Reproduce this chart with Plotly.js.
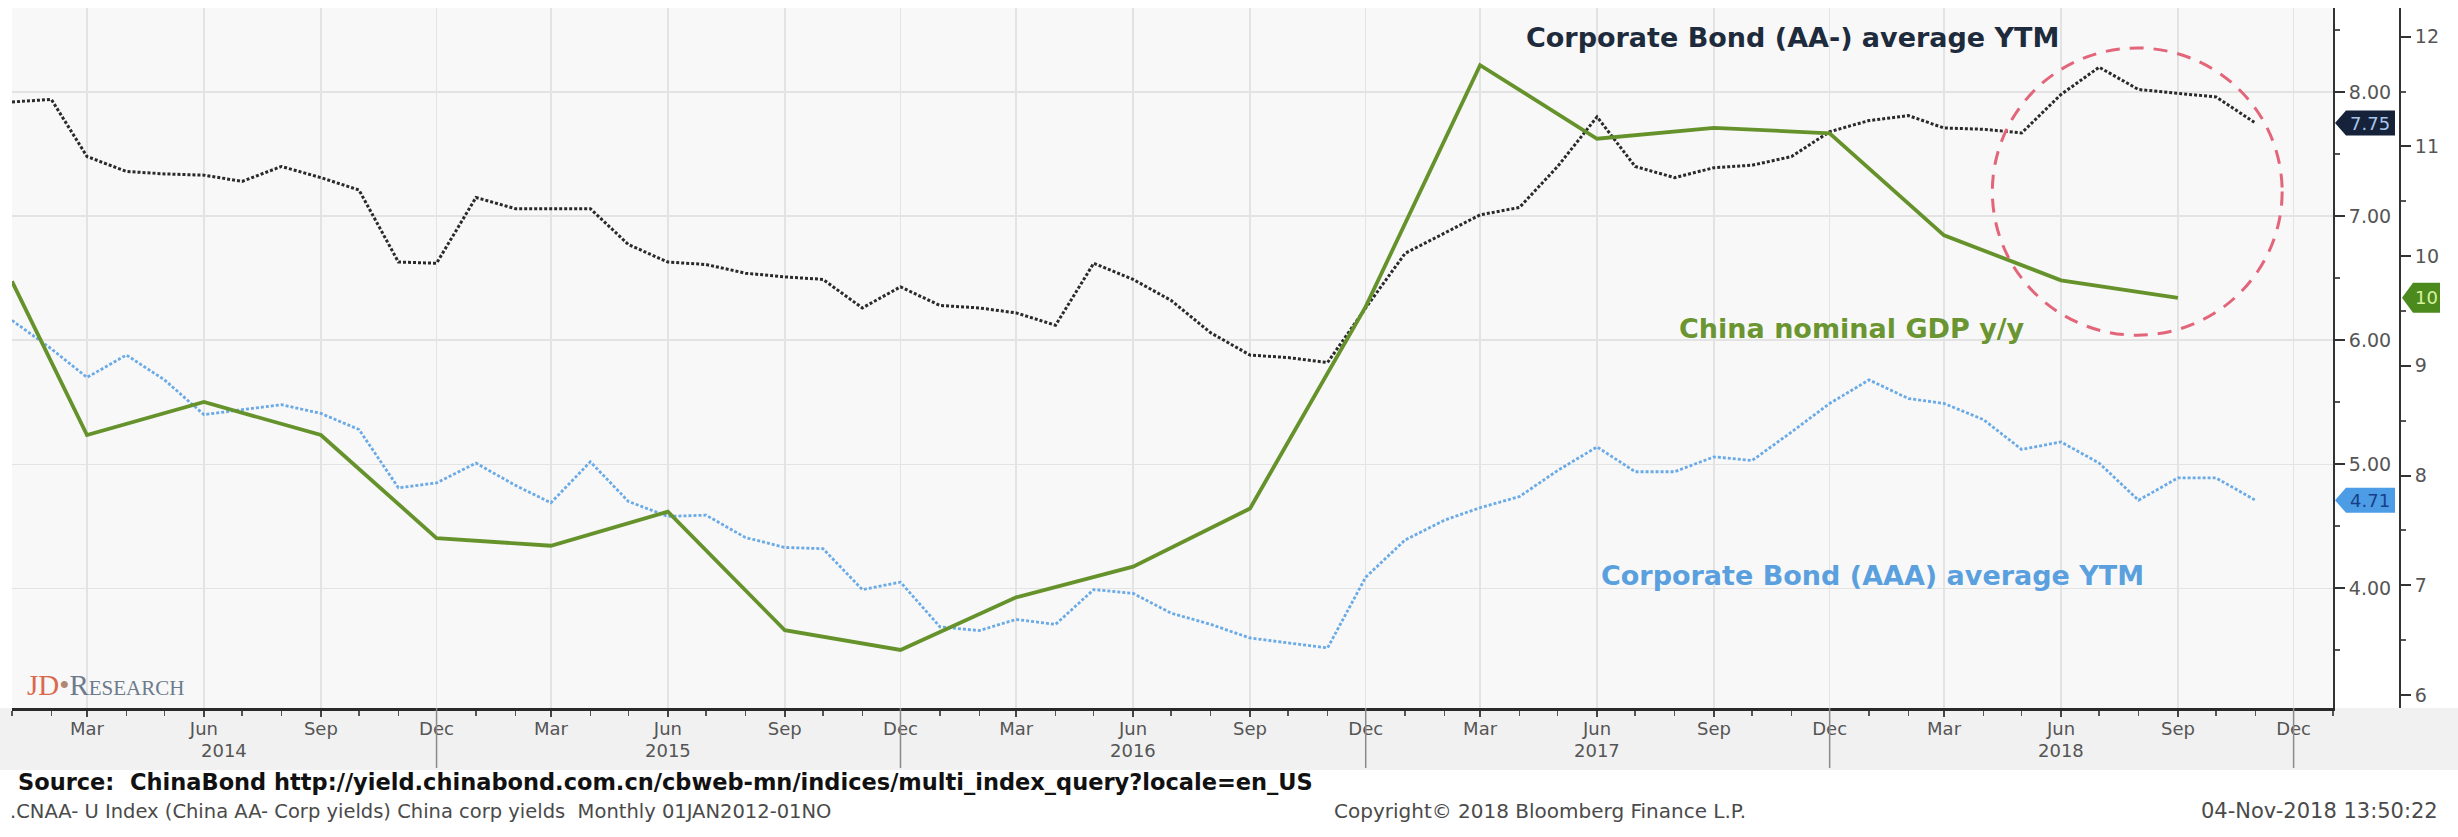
<!DOCTYPE html>
<html>
<head>
<meta charset="utf-8">
<script src="https://cdn.plot.ly/plotly-3.0.1.min.js"></script>
<style>
html,body{margin:0;padding:0;background:#ffffff;}
#chart{width:2458px;height:837px;}
</style>
</head>
<body>
<div id="chart"></div>
<script>
// ---------------- DATA ----------------
const months = [
 '2014-01','2014-02','2014-03','2014-04','2014-05','2014-06','2014-07','2014-08','2014-09','2014-10','2014-11','2014-12',
 '2015-01','2015-02','2015-03','2015-04','2015-05','2015-06','2015-07','2015-08','2015-09','2015-10','2015-11','2015-12',
 '2016-01','2016-02','2016-03','2016-04','2016-05','2016-06','2016-07','2016-08','2016-09','2016-10','2016-11','2016-12',
 '2017-01','2017-02','2017-03','2017-04','2017-05','2017-06','2017-07','2017-08','2017-09','2017-10','2017-11','2017-12',
 '2018-01','2018-02','2018-03','2018-04','2018-05','2018-06','2018-07','2018-08','2018-09','2018-10','2018-11'
];
// Corporate Bond (AA-) average YTM, %
const aaMinusYtm = [
 7.92,7.94,7.48,7.36,7.34,7.33,7.28,7.40,7.31,7.21,6.63,6.62,
 7.15,7.06,7.06,7.06,6.77,6.63,6.61,6.54,6.51,6.49,6.26,6.43,
 6.28,6.26,6.22,6.12,6.62,6.49,6.32,6.06,5.88,5.86,5.82,6.26,
 6.70,6.86,7.01,7.07,7.40,7.80,7.40,7.31,7.39,7.41,7.48,7.68,
 7.77,7.81,7.71,7.70,7.67,7.98,8.20,8.02,7.99,7.96,7.75
];
// Corporate Bond (AAA) average YTM, %
const aaaYtm = [
 6.16,5.93,5.70,5.88,5.68,5.40,5.44,5.48,5.41,5.28,4.81,4.85,
 5.01,4.83,4.69,5.02,4.70,4.58,4.59,4.41,4.33,4.32,3.99,4.05,
 3.69,3.66,3.75,3.71,3.99,3.96,3.80,3.71,3.60,3.56,3.52,4.09,
 4.39,4.55,4.65,4.74,4.95,5.14,4.94,4.94,5.06,5.03,5.26,5.49,
 5.68,5.53,5.49,5.36,5.12,5.18,5.01,4.71,4.89,4.89,4.71
];
// China nominal GDP y/y, % (quarterly)
const gdpDates = ['2014-01','2014-03','2014-06','2014-09','2014-12','2015-03','2015-06','2015-09','2015-12',
 '2016-03','2016-06','2016-09','2016-12','2017-03','2017-06','2017-09','2017-12','2018-03','2018-06','2018-09'];
const gdpYoY = [9.77,8.37,8.67,8.37,7.43,7.36,7.67,6.59,6.41,6.89,7.17,7.70,9.54,11.74,11.07,11.17,11.12,10.19,9.78,9.62];

// Axis ticks / labels
const quarterTicks = ['2014-03','2014-06','2014-09','2014-12','2015-03','2015-06','2015-09','2015-12',
 '2016-03','2016-06','2016-09','2016-12','2017-03','2017-06','2017-09','2017-12','2018-03','2018-06','2018-09','2018-12'];
const quarterLabels = ['Mar','Jun','Sep','Dec','Mar','Jun','Sep','Dec','Mar','Jun','Sep','Dec',
 'Mar','Jun','Sep','Dec','Mar','Jun','Sep','Dec'];
const years = ['2014','2015','2016','2017','2018'];
const yearEnds = ['2014-12','2015-12','2016-12','2017-12','2018-12'];
const yieldTicks = [4,5,6,7,8];
const yieldTickLabels = ['4.00','5.00','6.00','7.00','8.00'];
const gdpTicks = [6,7,8,9,10,11,12];

// ---------------- LAYOUT HELPERS ----------------
const W = 2458, H = 837;
const M = {l:12, r:18, t:8, b:129};
const PW = W - M.l - M.r, PH = H - M.t - M.b;
const px = p => (p - M.l) / PW;          // pixel x -> paper x
const py = p => (H - M.b - p) / PH;      // pixel y -> paper y
const xEnd = px(2333);                   // right end of x domain (yield axis)
const y2Pos = px(2400);                  // GDP axis position
const xRange = ['2014-01-01','2019-01-01'];

const FONT = 'DejaVu Sans, Verdana, sans-serif';
const ms = s => new Date(s + (s.length === 7 ? '-01' : '') + 'T00:00:00Z').getTime();
const iso = t => new Date(t).toISOString().slice(0,10);

// ---------------- TRACES ----------------
const traces = [
 {x: gdpDates, y: gdpYoY, yaxis:'y2', type:'scatter', mode:'lines', name:'China nominal GDP y/y',
  line:{color:'#66922c', width:3.8}},
 {x: months, y: aaMinusYtm, yaxis:'y', type:'scatter', mode:'lines', name:'Corporate Bond (AA-) average YTM',
  line:{color:'#2a2a2a', width:3, dash:'3px,2px'}},
 {x: months, y: aaaYtm, yaxis:'y', type:'scatter', mode:'lines', name:'Corporate Bond (AAA) average YTM',
  line:{color:'#6aaae6', width:2.8, dash:'3px,2px'}}
];

// ---------------- SHAPES ----------------
const shapes = [];
// label band below the axis
shapes.push({type:'rect', xref:'paper', yref:'paper', x0:px(0), x1:px(W), y0:py(708), y1:py(770),
  fillcolor:'#f1f1f1', line:{width:0}, layer:'below'});
// year separators
yearEnds.forEach(d => shapes.push({type:'line', xref:'x', yref:'paper', x0:d, x1:d, y0:py(708), y1:py(768),
  line:{color:'#8a8a8a', width:1.5}}));
// highlight circle
shapes.push({type:'circle', xref:'x', yref:'y', x0:'2018-04-08', x1:'2018-11-22', y0:6.04, y1:8.355,
  line:{color:'#e3657a', width:3, dash:'14px,10px'}});
// last value tags
function tag(xAnchor, yref, yVal, w, h, fill){
  const hh = h/2;
  shapes.push({type:'path', xref:'paper', yref:yref, xsizemode:'pixel', ysizemode:'pixel',
    xanchor:xAnchor, yanchor:yVal,
    path:`M 2 0 L 13 ${-hh} L ${w} ${-hh} L ${w} ${hh} L 13 ${hh} Z`,
    fillcolor:fill, line:{width:0}});
}
const lastAA = aaMinusYtm[aaMinusYtm.length-1];
const lastAAA = aaaYtm[aaaYtm.length-1];
const lastGDP = gdpYoY[gdpYoY.length-1];
tag(xEnd, 'y', lastAA, 62, 25, '#15223a');
tag(xEnd, 'y', lastAAA, 62, 25, '#4c9ce6');
tag(y2Pos, 'y2', lastGDP, 40, 30, '#4d8a1d');

// ---------------- ANNOTATIONS ----------------
const ann = [];
const txt = (text, x, y, opts) => Object.assign({text, x, y, xref:'paper', yref:'paper', showarrow:false,
  xanchor:'left', yanchor:'middle'}, opts || {});

ann.push(txt('<b>Corporate Bond (AA-) average YTM</b>', px(1792), py(37),
  {xanchor:'center', font:{family:FONT, size:27, color:'#1e2b3c'}}));
ann.push(txt('<b>China nominal GDP y/y</b>', px(1852), py(328),
  {xanchor:'center', font:{family:FONT, size:27, color:'#6a9530'}}));
ann.push(txt('<b>Corporate Bond (AAA) average YTM</b>', px(1872), py(575),
  {xanchor:'center', font:{family:FONT, size:27, color:'#5aa0de'}}));

// year labels centred on the visible part of each year
years.forEach((yr, i) => {
  const end = ms(yearEnds[i]);
  const start = i === 0 ? ms(xRange[0].slice(0,7)) : ms(yearEnds[i-1]);
  ann.push({text: yr, x: iso((start + end)/2), xref:'x', y: py(750), yref:'paper', showarrow:false,
    xanchor:'center', yanchor:'middle', font:{family:FONT, size:18, color:'#555555'}});
});

// logo
ann.push(txt('<span style="color:#d9694e">JD</span><span style="color:#b08a70">\u2022</span><span style="color:#6d7b8c">R<span style="font-size:21px">ESEARCH</span></span>',
  px(25), py(685), {font:{family:'Liberation Serif, serif', size:29, color:'#6d7b8c'}}));

// footer texts
ann.push(txt('<b>Source:  ChinaBond http://yield.chinabond.com.cn/cbweb-mn/indices/multi_index_query?locale=en_US</b>',
  px(16), py(782), {font:{family:FONT, size:22.5, color:'#111111'}}));
ann.push(txt('.CNAA- U Index (China AA- Corp yields) China corp yields  Monthly 01JAN2012-01NO',
  px(8), py(811), {font:{family:FONT, size:19.5, color:'#4a4a4a'}}));
ann.push(txt('Copyright\u00a9 2018 Bloomberg Finance L.P.', px(1332), py(811),
  {font:{family:FONT, size:20, color:'#4a4a4a'}}));
ann.push(txt('04-Nov-2018 13:50:22', px(2440), py(811),
  {xanchor:'right', font:{family:FONT, size:21, color:'#4a4a4a'}}));

// tag texts
ann.push({text: lastAA.toFixed(2), x: xEnd + 37/PW, xref:'paper', y: lastAA, yref:'y', showarrow:false,
  xanchor:'center', yanchor:'middle', font:{family:FONT, size:18, color:'#a7c6ea'}});
ann.push({text: lastAAA.toFixed(2), x: xEnd + 37/PW, xref:'paper', y: lastAAA, yref:'y', showarrow:false,
  xanchor:'center', yanchor:'middle', font:{family:FONT, size:18, color:'#173f86'}});
ann.push({text: String(Math.round(lastGDP)), x: y2Pos + 26/PW, xref:'paper', y: lastGDP, yref:'y2', showarrow:false,
  xanchor:'center', yanchor:'middle', font:{family:FONT, size:18, color:'#d8f2a0'}});

// ---------------- LAYOUT ----------------
const tickFont = {family:FONT, size:19, color:'#555555'};
const layout = {
  width:W, height:H, margin:M, showlegend:false,
  paper_bgcolor:'#ffffff', plot_bgcolor:'#f8f8f8',
  xaxis:{type:'date', range:xRange, domain:[0, xEnd],
    tickmode:'array', tickvals:quarterTicks, ticktext:quarterLabels,
    tickfont:{family:FONT, size:18, color:'#555555'}, ticklabelstandoff:-3,
    ticks:'outside', ticklen:6, tickwidth:1.5, tickcolor:'#444444',
    minor:{tickmode:'linear', tick0:'2014-01-01', dtick:'M1', ticks:'outside', ticklen:5, tickcolor:'#555555', showgrid:false},
    showgrid:true, gridcolor:'#e3e3e3', gridwidth:1.5,
    showline:true, linecolor:'#2a2a2a', linewidth:2.5, zeroline:false, fixedrange:true},
  yaxis:{side:'right', anchor:'x', range:[3.036, 8.677],
    tickmode:'array', tickvals:yieldTicks, ticktext:yieldTickLabels, tickfont:tickFont,
    ticks:'outside', ticklen:10, tickwidth:2, tickcolor:'#333333',
    minor:{dtick:0.5, ticks:'outside', ticklen:5, tickcolor:'#555555', showgrid:false},
    showgrid:true, gridcolor:'#e3e3e3', gridwidth:1.5,
    showline:true, linecolor:'#333333', linewidth:2, zeroline:false, fixedrange:true},
  yaxis2:{overlaying:'y', side:'right', anchor:'free', position:y2Pos, range:[5.881, 12.262],
    tickmode:'array', tickvals:gdpTicks, tickfont:tickFont,
    ticks:'outside', ticklen:10, tickwidth:2, tickcolor:'#333333',
    minor:{dtick:0.5, ticks:'outside', ticklen:5, tickcolor:'#555555', showgrid:false},
    showgrid:false, showline:true, linecolor:'#333333', linewidth:2, zeroline:false, fixedrange:true},
  shapes:shapes, annotations:ann
};

Plotly.newPlot('chart', traces, layout, {staticPlot:true, displayModeBar:false});
</script>
</body>
</html>
